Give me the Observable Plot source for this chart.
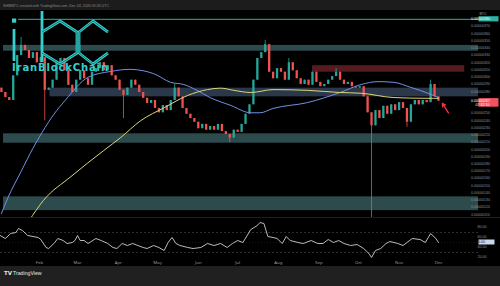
<!DOCTYPE html>
<html><head><meta charset="utf-8">
<script src="https://cdn.jsdelivr.net/npm/d3@7"></script>
<script src="https://cdn.jsdelivr.net/npm/@observablehq/plot@0.6"></script>
<style>
html,body{margin:0;padding:0;background:#000;}
#wrap{position:relative;width:500px;height:286px;background:#000;overflow:hidden;font-family:"Liberation Sans",Arial,sans-serif;}
#wrap > svg, #wrap > div{position:absolute;left:0;}
</style></head><body>
<div id="wrap">
<svg id="bg" width="500" height="286" style="position:absolute;left:0;top:0">
  <rect x="0" y="0" width="500" height="10" fill="#1c1c1c"/>
  <text x="3" y="6.6" font-size="3.6" fill="#8a8a8a" font-family="Liberation Sans, Arial">SHIBBTC created with TradingView.com, Dec 03, 2024 09:26 UTC</text>
  <rect x="0" y="266" width="500" height="20" fill="#202020"/>
  <rect x="0" y="217" width="500" height="0.8" fill="#262626"/>
  <text x="4" y="275" font-size="5.5" font-weight="bold" fill="#e6e6e6" font-family="DejaVu Sans, Arial">TV</text>
  <text x="13" y="275" font-size="5.2" fill="#e6e6e6" font-family="Liberation Sans, Arial">TradingView</text>
</svg>
<div id="pricePane" style="top:0"></div>
<div id="rsiPane" style="top:217px"></div>
<svg id="logo" width="500" height="286" style="position:absolute;left:0;top:0;pointer-events:none">
  <g fill="none" stroke="#33d0ce" stroke-width="2.8" stroke-linejoin="round">
    <path d="M14,29 V61"/>
    <path d="M42,11 V62"/>
    <path d="M42,32 L60,21 L77,32 L77,53 L60,64 L42,53"/>
    <path d="M108,32 L93,21 L79,32 L79,53 L93,64 L108,53"/>
  </g>
  <g fill="none" stroke="#0f5f60" stroke-width="0.8" stroke-linejoin="round">
    <path d="M42,32 L60,21 L77,32 L77,53 L60,64 L42,53"/>
    <path d="M108,32 L93,21 L79,32 L79,53 L93,64 L108,53"/>
  </g>
  <rect x="12" y="18.5" width="4.2" height="4.2" fill="#33d0ce"/>
  <text x="12" y="71" font-family="DejaVu Sans, Arial" font-weight="bold" font-size="10" textLength="96" lengthAdjust="spacing" fill="#33d0ce">IranBlockChain</text>
</svg>
</div>
<script>
// ---------- data ----------
const DAY = 864e5;
const T0 = Date.UTC(2024, 0, 1);
const day = d => new Date(T0 + d * DAY);

// 3-day candles starting Jan 3 2024 (prices in units of 1e-8)
const firstOpen = 285;
const candleCloses = [
  279, 272, 268, 302, 330, 344, 337, 326, 334, 320,
  327, 282, 285, 296, 320, 326, 309, 289, 279, 296,
  309, 298, 289, 307, 312, 320, 309, 316, 302, 296,
  282, 275, 285, 296, 289, 279, 271, 264, 268, 257,
  251, 261, 254, 268, 285, 273, 257, 249, 243, 238,
  229, 235, 227, 232, 227, 235, 225, 221, 216, 227,
  224, 235, 249, 262, 296, 326, 334, 345, 307, 298,
  312, 307, 296, 320, 309, 298, 290, 296, 289, 307,
  293, 287, 290, 296, 301, 307, 296, 290, 293, 287,
  285, 287, 273, 251, 233, 254, 243, 260, 249, 262,
  254, 265, 257, 238, 262, 268, 262, 268, 265, 290,
  273, 267
];
const wickIndex = [5, 11, 31, 44, 58, 67, 73, 85, 94, 103, 109];
const wickHigh  = [355, 327, 282, 290, 221, 351, 326, 312, 251, 257, 296];
const wickLow   = [330, 240, 243, 268, 210, 334, 296, 301, 100, 231, 265];

// moving averages [day, value]
const maBlue = [[2,112],[7,134],[17,170],[26,202],[33,224],[42,249],[51,269],[68,300],[85,308],[100,311],[110,309],[118,305],[131,293],[141,290],[151,282],[161,272],[177,261],[192,251],[199,251],[209,257],[235,265],[260,279],[276,290],[289,294],[301,293],[314,286],[327,278],[335,272]];
const maYellow = [[23,102],[34,130],[55,163],[80,199],[93,217],[108,240],[126,258],[144,275],[159,283],[169,285],[179,282],[192,279],[209,283],[235,282],[260,279],[276,278],[301,272],[327,271],[335,271]];

// zones
const zoneLow = [336, 273, 209, 116, 307];
const zoneHigh = [344, 285, 222, 135, 316];
const zoneStartDay = [3.6, 39, 3.6, 3.6, 239];
const zoneEndDay = [365.5, 365.5, 365.5, 365.5, 355];
const topLevel = 380, topLevelStartDay = 15;

// arrow annotation [day1, value1, day2, value2]
const arrowAnno = [[342.6, 251, 338, 264]];

// RSI [day, value]
const rsiPoints = [
[1,64],[5,58],[9,68],[13,70],[15,78],[18,74],[22,64],[26,62],[30,60],[32,56],
[36,40],[38,38],[42,48],[45,58],[49,54],[52,48],[56,50],[58,54],[60,64],[62,54],
[65,54],[68,48],[74,58],[78,54],[83,48],[87,40],[90,38],[94,48],[98,44],[102,48],
[106,44],[110,40],[113,38],[118,44],[122,40],[126,34],[129,50],[132,60],[135,48],[138,44],
[144,40],[148,38],[154,40],[159,48],[164,44],[169,48],[174,40],[178,48],[182,54],[186,50],
[192,76],[197,84],[199,90],[202,88],[205,62],[209,60],[212,58],[216,48],[219,62],[222,54],
[228,50],[232,48],[238,54],[243,48],[247,48],[251,56],[255,50],[259,54],[263,48],[268,44],
[273,46],[278,38],[282,28],[284,20],[287,34],[291,38],[295,48],[298,52],[304,48],[308,44],
[311,50],[315,58],[321,56],[325,50],[329,68],[333,58],[335,50]
];

// axis labels
const priceTicks = [380,370,360,350,340,330,320,310,300,290,280,270,260,250,240,230,220,210,200,190,180,170,160,150,140,130,120,110];
const rsiTicks = [80, 60, 40, 20];
const monthNames = ["Feb","Mar","Apr","May","Jun","Jul","Aug","Sep","Oct","Nov","Dec"];
const monthIndex = [1,2,3,4,5,6,7,8,9,10,11];
const lastPriceText = "0.00000267", countdownText = "07:32:10";

// ---------- styles ----------
const UP = "#26a69a", DOWN = "#ef5350";
const zoneFill = ["#2d4b4d", "#2b3849", "#2d4b4d", "#2d4b4d", "#561b1e"];
const xDomain = [day(1.295), day(365.5)];

const candles = candleCloses.map((c, i) => {
  const open = i === 0 ? firstOpen : candleCloses[i - 1];
  const w = wickIndex.indexOf(i);
  return {date: day(2 + 3 * i), open, close: c,
    high: w >= 0 ? wickHigh[w] : Math.max(open, c),
    low: w >= 0 ? wickLow[w] : Math.min(open, c)};
});
const zones = zoneLow.map((lo, i) => ({i, lo, hi: zoneHigh[i], x1: day(zoneStartDay[i]), x2: day(zoneEndDay[i])}));
const col = d => d.close >= d.open ? UP : DOWN;

const price = Plot.plot({
  width: 500, height: 217, marginLeft: 0, marginRight: 22, marginTop: 12, marginBottom: 0,
  style: {background: "transparent"},
  x: {type: "utc", domain: xDomain, axis: null},
  y: {domain: [106.5, 389.4], axis: null},
  marks: [
    Plot.rect(zones, {x1: "x1", x2: "x2", y1: "lo", y2: "hi", fill: d => zoneFill[d.i]}),
    Plot.ruleY([topLevel], {x1: day(topLevelStartDay), x2: day(365.5), stroke: "#2bb3a6", strokeWidth: 1}),
    Plot.ruleX(candles, {x: "date", y1: "low", y2: "high", stroke: col, strokeWidth: 0.8}),
    Plot.ruleX(candles, {x: "date", y1: "open", y2: "close", stroke: col, strokeWidth: 2.3}),
    Plot.line(maBlue, {x: d => day(d[0]), y: d => d[1], stroke: "#7390e6", strokeWidth: 1, curve: "monotone-x"}),
    Plot.line(maYellow, {x: d => day(d[0]), y: d => d[1], stroke: "#ddd77a", strokeWidth: 1, curve: "monotone-x"}),
    Plot.arrow(arrowAnno, {x1: d => day(d[0]), y1: d => d[1], x2: d => day(d[2]), y2: d => d[3], stroke: "#f23645", strokeWidth: 1.3, headLength: 4, bend: 0})
  ]
});
document.getElementById("pricePane").appendChild(price);

// right price axis
const ys = price.scale("y");
const lastClose = candleCloses[candleCloses.length - 1];
const yLast = ys.apply(lastClose);
const yTop = ys.apply(topLevel);
const gP = d3.select(price).append("g").attr("font-family", "Liberation Sans, Arial").attr("font-size", 3.6);
gP.append("text").attr("x", 483).attr("y", 15).attr("fill", "#a0a0a0").text("BTC");
for (const t of priceTicks) {
  const y = ys.apply(t);
  if (Math.abs(y - yTop) < 4.5) continue;
  if (y > yLast - 5 && y < yLast + 10) continue;
  gP.append("text").attr("x", 480.5).attr("y", y).attr("dy", "0.35em").attr("fill", "#8d9099").text("0.00000" + t);
}
gP.append("rect").attr("x", 478.5).attr("y", yTop - 2.6).attr("width", 20).attr("height", 5.2).attr("fill", "#2bb3a6");
gP.append("text").attr("x", 480.5).attr("y", yTop).attr("dy", "0.35em").attr("fill", "#ffffff").text("0.00000" + topLevel);
gP.append("rect").attr("x", 478.5).attr("y", yLast - 2.6).attr("width", 20).attr("height", 8.6).attr("fill", "#f0525f");
gP.append("text").attr("x", 480.5).attr("y", yLast).attr("dy", "0.35em").attr("fill", "#fff").text(lastPriceText);
gP.append("text").attr("x", 482.5).attr("y", yLast + 4).attr("dy", "0.35em").attr("fill", "#fff").text(countdownText);

const rsi = Plot.plot({
  width: 500, height: 49, marginLeft: 0, marginRight: 22, marginTop: 0, marginBottom: 0,
  style: {background: "transparent"},
  x: {type: "utc", domain: xDomain, axis: null},
  y: {domain: [0, 100], range: [50, 0], axis: null},
  marks: [
    Plot.ruleY([70, 30], {stroke: "#4a4a4a", strokeWidth: 0.6, strokeDasharray: "2,2"}),
    Plot.ruleY([50], {stroke: "#2e2e2e", strokeWidth: 0.5, strokeDasharray: "1,2"}),
    Plot.line(rsiPoints, {x: d => day(d[0]), y: d => d[1], stroke: "#d0d0d0", strokeWidth: 0.9}),
    Plot.text(monthIndex, {x: m => new Date(Date.UTC(2024, m, 1)), text: (m, i) => monthNames[i], frameAnchor: "bottom", dy: -3, fontSize: 4.3, fill: "#9a9a9a"})
  ]
});
document.getElementById("rsiPane").appendChild(rsi);
const yr = rsi.scale("y");
const lastRsi = rsiPoints[rsiPoints.length - 1][1];
const gR = d3.select(rsi).append("g").attr("font-family", "Liberation Sans, Arial").attr("font-size", 3.6);
for (const t of rsiTicks) {
  if (Math.abs(yr.apply(t) - yr.apply(lastRsi)) < 4.5) continue;
  gR.append("text").attr("x", 482).attr("y", yr.apply(t)).attr("dy", "0.35em").attr("fill", "#8d9099").text(t.toFixed(2));
}
gR.append("rect").attr("x", 478.5).attr("y", yr.apply(lastRsi) - 2.5).attr("width", 16).attr("height", 5).attr("fill", "#c9d8f0");
gR.append("text").attr("x", 480.5).attr("y", yr.apply(lastRsi)).attr("dy", "0.35em").attr("fill", "#131722").text(lastRsi.toFixed(2));
</script>
</body></html>
